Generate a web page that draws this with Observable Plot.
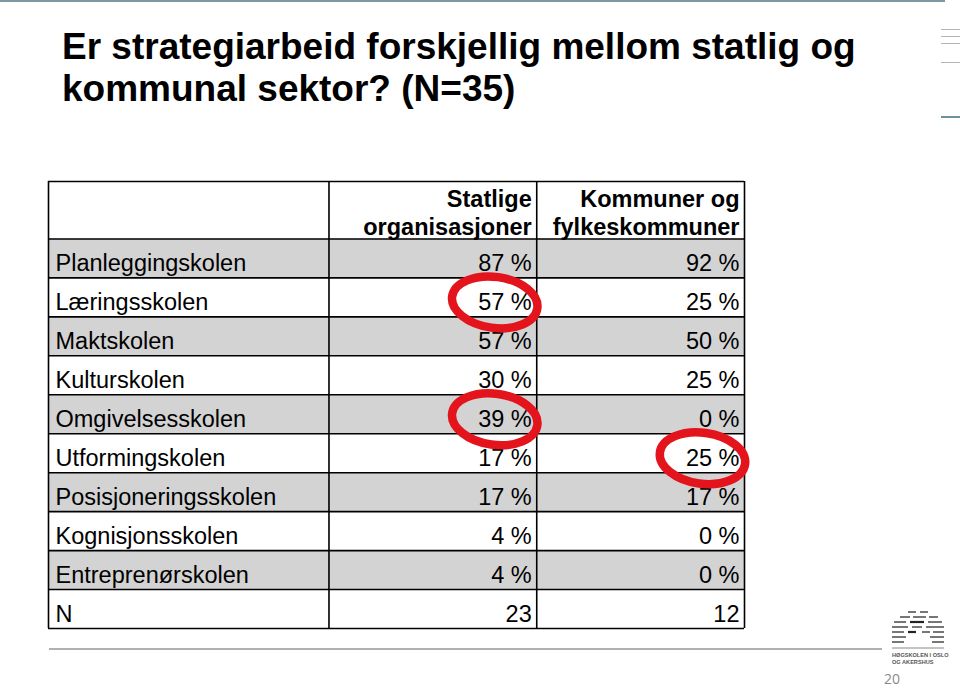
<!DOCTYPE html>
<html>
<head>
<meta charset="utf-8">
<script src="https://cdn.jsdelivr.net/npm/d3@7"></script>
<script src="https://cdn.jsdelivr.net/npm/@observablehq/plot@0.6"></script>
<style>
  html, body { margin: 0; padding: 0; background: #fff; }
  #slide { position: relative; width: 960px; height: 689px; overflow: hidden; font-family: "Liberation Sans", Arial, sans-serif; }
  #title { position: absolute; left: 62px; top: 26px; font-size: 37px; font-weight: bold; line-height: 42px; color: #000; white-space: nowrap; }
  #chart { position: absolute; left: 0; top: 0; }
  .deco { position: absolute; }
</style>
</head>
<body>
<div id="slide">
  <div class="deco" style="left:0;top:0;width:945px;height:2px;background:#7d98a3"></div>
  <div class="deco" style="left:941px;top:29px;width:19px;height:1px;background:#b5b5b5"></div>
  <div class="deco" style="left:941px;top:36px;width:19px;height:1px;background:#b5b5b5"></div>
  <div class="deco" style="left:941px;top:43px;width:19px;height:1px;background:#b5b5b5"></div>
  <div class="deco" style="left:941px;top:62px;width:19px;height:1px;background:#b5b5b5"></div>
  <div class="deco" style="left:941px;top:116px;width:19px;height:2px;background:#6c909c"></div>
  <div class="deco" style="left:49px;top:648px;width:833px;height:2px;background:#b0b0b0"></div>
  <div id="chart"></div>
  <div id="title">Er strategiarbeid forskjellig mellom statlig og<br>kommunal sektor? (N=35)</div>
  <svg class="deco" style="left:886px;top:606px" width="64" height="62">
    <g stroke="#555" stroke-width="1.6">
      <line x1="22" y1="6" x2="30" y2="6"/><line x1="34" y1="6" x2="42" y2="6"/>
      <line x1="14" y1="11" x2="24" y2="11"/><line x1="27" y1="11" x2="40" y2="11"/><line x1="43" y1="11" x2="52" y2="11"/>
      <line x1="8" y1="16" x2="20" y2="16"/><line x1="24" y1="16" x2="38" y2="16" stroke="#222" stroke-width="2.2"/><line x1="42" y1="16" x2="56" y2="16"/>
      <line x1="6" y1="21" x2="22" y2="21"/><line x1="26" y1="21" x2="36" y2="21"/><line x1="40" y1="21" x2="58" y2="21"/>
      <line x1="6" y1="26" x2="18" y2="26"/><line x1="22" y1="26" x2="30" y2="26" stroke="#222" stroke-width="2.2"/><line x1="36" y1="26" x2="44" y2="26"/><line x1="47" y1="26" x2="58" y2="26"/>
      <line x1="6" y1="31" x2="20" y2="31"/><line x1="44" y1="31" x2="58" y2="31"/>
      <line x1="6" y1="36" x2="18" y2="36"/><line x1="46" y1="36" x2="58" y2="36"/>
      <line x1="6" y1="42" x2="58" y2="42" stroke="#888" stroke-width="1"/>
    </g>
    <text x="6" y="51" font-size="5.6" font-weight="bold" fill="#555" font-family="Liberation Sans, Arial, sans-serif">HØGSKOLEN I OSLO</text>
    <text x="6" y="58" font-size="5.6" font-weight="bold" fill="#555" font-family="Liberation Sans, Arial, sans-serif">OG AKERSHUS</text>
  </svg>
  <div class="deco" style="left:884px;top:671px;font-size:14px;line-height:15px;color:#8a8a8a;font-family:'Open Sans',sans-serif;">20</div>
</div>
<script>
// ---- data ----
const categories = ["Planleggingskolen", "Læringsskolen", "Maktskolen", "Kulturskolen", "Omgivelsesskolen", "Utformingskolen", "Posisjoneringsskolen", "Kognisjonsskolen", "Entreprenørskolen"];
const statlige = [87, 57, 57, 30, 39, 17, 17, 4, 4];
const kommuner = [92, 25, 50, 25, 0, 25, 17, 0, 0];
const nLabel = "N";
const nValues = [23, 12];
const columnHeaders = ["Statlige\norganisasjoner", "Kommuner og\nfylkeskommuner"];
const highlights = [
  {row: "Læringsskolen", col: 0},
  {row: "Omgivelsesskolen", col: 0},
  {row: "Utformingskolen", col: 1}
];

// ---- layout (table units) ----
const colWeights = [1.35, 1, 1];
const colEdges = [0];
colWeights.forEach(w => colEdges.push(colEdges[colEdges.length - 1] + w));
const totalW = colEdges[colEdges.length - 1];
const headerH = 1.475;
// right edge of value column j (0 = statlige, 1 = kommuner)
const colRight = j => colEdges[j + 2];

const rows = categories.map((c, i) => ({label: c, i, vals: [statlige[i] + " %", kommuner[i] + " %"]}));
rows.push({label: nLabel, i: categories.length, vals: nValues.map(String)});
const totalH = headerH + rows.length;
const rowIndex = new Map(rows.map(r => [r.label, r.i]));

const cells = rows.flatMap(r => r.vals.map((v, j) => ({text: v, i: r.i, col: j})));
const headers = columnHeaders.map((h, j) => ({text: h, col: j}));
const hRules = [0, headerH, ...rows.map(r => headerH + r.i + 1)];

function ellipseSymbol(rx, ry, deg) {
  const a = deg * Math.PI / 180, c = Math.cos(a), s = Math.sin(a), k = 0.5523;
  const P = (x, y) => [x * c - y * s, x * s + y * c];
  return {
    draw(ctx) {
      ctx.moveTo(...P(rx, 0));
      ctx.bezierCurveTo(...P(rx, k * ry), ...P(k * rx, ry), ...P(0, ry));
      ctx.bezierCurveTo(...P(-k * rx, ry), ...P(-rx, k * ry), ...P(-rx, 0));
      ctx.bezierCurveTo(...P(-rx, -k * ry), ...P(-k * rx, -ry), ...P(0, -ry));
      ctx.bezierCurveTo(...P(k * rx, -ry), ...P(rx, -k * ry), ...P(rx, 0));
      ctx.closePath();
    }
  };
}

const font = "'Liberation Sans', Arial, sans-serif";
const chart = Plot.plot({
  width: 960,
  height: 689,
  marginLeft: 48,
  marginRight: 216,
  marginTop: 181,
  marginBottom: 61,
  style: {fontFamily: font, background: "transparent", overflow: "visible"},
  x: {domain: [0, totalW], axis: null},
  y: {domain: [0, totalH], reverse: true, axis: null},
  marks: [
    Plot.rect(rows.filter(r => r.i % 2 === 0 && r.label !== nLabel), {
      x1: 0, x2: totalW, y1: r => headerH + r.i, y2: r => headerH + r.i + 1, fill: "#d3d3d3"
    }),
    Plot.ruleY(hRules, {x1: 0, x2: totalW, stroke: "#000", strokeWidth: 1.6}),
    Plot.ruleX(colEdges, {y1: 0, y2: totalH, stroke: "#000", strokeWidth: 1.6}),
    Plot.text(rows, {
      x: 0, y: r => headerH + r.i + 0.5, text: "label", textAnchor: "start",
      dx: 7, dy: 5, fontSize: 23.5, fill: "#000"
    }),
    Plot.text(cells, {
      x: d => colRight(d.col), y: d => headerH + d.i + 0.5, text: "text", textAnchor: "end",
      dx: -5, dy: 5, fontSize: 23.5, fill: "#000"
    }),
    Plot.text(headers, {
      x: d => colRight(d.col), y: headerH, text: "text", textAnchor: "end",
      lineAnchor: "bottom", lineHeight: 1.2, dx: -5, dy: -4, fontSize: 23.5, fontWeight: "bold", fill: "#000"
    }),
    Plot.dot(highlights, {
      x: d => colRight(d.col), y: d => headerH + rowIndex.get(d.row) + 0.5,
      symbol: ellipseSymbol(43, 25.5, 8), r: 10, dx: -42, dy: 5,
      fill: "none", stroke: "#e3141b", strokeWidth: 8.5
    })
  ]
});
document.getElementById("chart").appendChild(chart);
</script>
</body>
</html>
